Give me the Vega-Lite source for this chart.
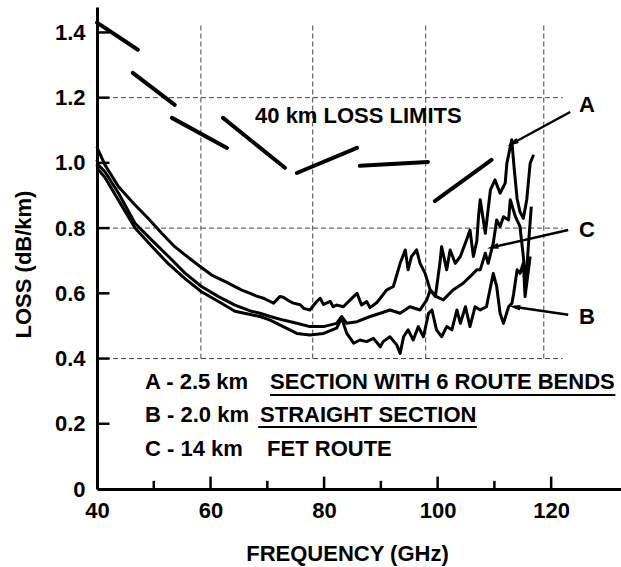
{
  "$schema": "https://vega.github.io/schema/vega-lite/v6.json",
  "width": 524,
  "height": 482,
  "autosize": {"type": "none"},
  "padding": {"left": 97, "top": 7, "right": 0, "bottom": 78},
  "background": "white",
  "config": {
    "view": {"stroke": null},
    "font": "Liberation Sans",
    "text": {"font": "Liberation Sans", "fontWeight": "bold", "fontSize": 22, "color": "black"}
  },
  "datasets": {
    "gridV": [
      {"x": 58.3, "y": 0.4, "y2": 1.43},
      {"x": 78.0, "y": 0.4, "y2": 1.43},
      {"x": 97.9, "y": 0.4, "y2": 1.43},
      {"x": 118.7, "y": 0.4, "y2": 1.43}
    ],
    "gridH": [
      {"x": 40, "x2": 122, "y": 0.4},
      {"x": 40, "x2": 122, "y": 0.8},
      {"x": 40, "x2": 122, "y": 1.2}
    ],
    "limits": [
      {"seg": 1, "x": 40.0, "y": 1.43}, {"seg": 1, "x": 47.2, "y": 1.347},
      {"seg": 2, "x": 46.3, "y": 1.276}, {"seg": 2, "x": 53.7, "y": 1.178},
      {"seg": 3, "x": 53.2, "y": 1.138}, {"seg": 3, "x": 62.9, "y": 1.046},
      {"seg": 4, "x": 62.2, "y": 1.138}, {"seg": 4, "x": 73.1, "y": 0.985},
      {"seg": 5, "x": 75.2, "y": 0.969}, {"seg": 5, "x": 85.8, "y": 1.046},
      {"seg": 6, "x": 86.3, "y": 0.991}, {"seg": 6, "x": 98.3, "y": 1.003},
      {"seg": 7, "x": 99.5, "y": 0.883}, {"seg": 7, "x": 109.5, "y": 1.009}
    ],
    "curves": [
      {"curve": "A", "x": 40.0, "y": 1.05}, {"curve": "A", "x": 40.2, "y": 1.04}, {"curve": "A", "x": 41.4, "y": 0.994},
      {"curve": "A", "x": 43.8, "y": 0.927}, {"curve": "A", "x": 46.7, "y": 0.871}, {"curve": "A", "x": 49.0, "y": 0.83},
      {"curve": "A", "x": 51.4, "y": 0.784}, {"curve": "A", "x": 53.7, "y": 0.743}, {"curve": "A", "x": 55.5, "y": 0.718},
      {"curve": "A", "x": 57.8, "y": 0.687}, {"curve": "A", "x": 60.2, "y": 0.656}, {"curve": "A", "x": 62.6, "y": 0.636},
      {"curve": "A", "x": 65.5, "y": 0.61}, {"curve": "A", "x": 67.0, "y": 0.6}, {"curve": "A", "x": 68.0, "y": 0.592},
      {"curve": "A", "x": 69.3, "y": 0.585}, {"curve": "A", "x": 70.5, "y": 0.575}, {"curve": "A", "x": 71.1, "y": 0.57},
      {"curve": "A", "x": 72.2, "y": 0.59}, {"curve": "A", "x": 72.8, "y": 0.588}, {"curve": "A", "x": 74.0, "y": 0.575},
      {"curve": "A", "x": 74.6, "y": 0.57}, {"curve": "A", "x": 75.8, "y": 0.565}, {"curve": "A", "x": 76.4, "y": 0.554},
      {"curve": "A", "x": 77.5, "y": 0.549}, {"curve": "A", "x": 78.7, "y": 0.575}, {"curve": "A", "x": 79.3, "y": 0.585},
      {"curve": "A", "x": 79.9, "y": 0.566}, {"curve": "A", "x": 81.1, "y": 0.575}, {"curve": "A", "x": 81.6, "y": 0.559},
      {"curve": "A", "x": 82.2, "y": 0.564}, {"curve": "A", "x": 83.4, "y": 0.559}, {"curve": "A", "x": 84.6, "y": 0.58},
      {"curve": "A", "x": 85.8, "y": 0.6}, {"curve": "A", "x": 86.6, "y": 0.564}, {"curve": "A", "x": 87.5, "y": 0.575},
      {"curve": "A", "x": 88.1, "y": 0.556}, {"curve": "A", "x": 89.3, "y": 0.572}, {"curve": "A", "x": 89.9, "y": 0.585},
      {"curve": "A", "x": 91.0, "y": 0.61}, {"curve": "A", "x": 92.2, "y": 0.621}, {"curve": "A", "x": 93.4, "y": 0.692},
      {"curve": "A", "x": 94.3, "y": 0.733}, {"curve": "A", "x": 94.8, "y": 0.672}, {"curve": "A", "x": 95.4, "y": 0.713},
      {"curve": "A", "x": 96.3, "y": 0.733}, {"curve": "A", "x": 96.9, "y": 0.692}, {"curve": "A", "x": 97.8, "y": 0.661},
      {"curve": "A", "x": 98.7, "y": 0.61}, {"curve": "A", "x": 99.6, "y": 0.59}, {"curve": "A", "x": 100.4, "y": 0.692},
      {"curve": "A", "x": 100.7, "y": 0.743}, {"curve": "A", "x": 101.6, "y": 0.672}, {"curve": "A", "x": 102.2, "y": 0.733},
      {"curve": "A", "x": 103.1, "y": 0.692}, {"curve": "A", "x": 104.0, "y": 0.713}, {"curve": "A", "x": 105.1, "y": 0.764},
      {"curve": "A", "x": 105.7, "y": 0.794}, {"curve": "A", "x": 106.3, "y": 0.713}, {"curve": "A", "x": 106.9, "y": 0.76},
      {"curve": "A", "x": 107.2, "y": 0.835}, {"curve": "A", "x": 107.5, "y": 0.887}, {"curve": "A", "x": 108.4, "y": 0.784},
      {"curve": "A", "x": 109.3, "y": 0.917}, {"curve": "A", "x": 110.1, "y": 0.948}, {"curve": "A", "x": 111.0, "y": 0.907},
      {"curve": "A", "x": 111.9, "y": 0.938}, {"curve": "A", "x": 112.2, "y": 0.999}, {"curve": "A", "x": 113.05, "y": 1.071},
      {"curve": "A", "x": 113.5, "y": 0.98}, {"curve": "A", "x": 114.0, "y": 0.89}, {"curve": "A", "x": 114.5, "y": 0.85},
      {"curve": "A", "x": 115.1, "y": 0.83}, {"curve": "A", "x": 115.7, "y": 0.887}, {"curve": "A", "x": 116.3, "y": 0.999},
      {"curve": "A", "x": 116.9, "y": 1.025},

      {"curve": "C", "x": 40.0, "y": 1.01}, {"curve": "C", "x": 40.2, "y": 0.994}, {"curve": "C", "x": 41.4, "y": 0.973},
      {"curve": "C", "x": 43.8, "y": 0.907}, {"curve": "C", "x": 46.7, "y": 0.815}, {"curve": "C", "x": 49.6, "y": 0.764},
      {"curve": "C", "x": 52.6, "y": 0.713}, {"curve": "C", "x": 55.5, "y": 0.662}, {"curve": "C", "x": 58.4, "y": 0.621},
      {"curve": "C", "x": 61.4, "y": 0.59}, {"curve": "C", "x": 64.3, "y": 0.564}, {"curve": "C", "x": 67.0, "y": 0.546},
      {"curve": "C", "x": 68.7, "y": 0.539}, {"curve": "C", "x": 70.5, "y": 0.529}, {"curve": "C", "x": 72.8, "y": 0.518},
      {"curve": "C", "x": 75.2, "y": 0.508}, {"curve": "C", "x": 77.5, "y": 0.498}, {"curve": "C", "x": 79.9, "y": 0.498},
      {"curve": "C", "x": 82.2, "y": 0.508}, {"curve": "C", "x": 83.1, "y": 0.529}, {"curve": "C", "x": 84.0, "y": 0.508},
      {"curve": "C", "x": 85.8, "y": 0.513}, {"curve": "C", "x": 88.1, "y": 0.529}, {"curve": "C", "x": 89.9, "y": 0.539},
      {"curve": "C", "x": 91.6, "y": 0.549}, {"curve": "C", "x": 93.4, "y": 0.539}, {"curve": "C", "x": 95.1, "y": 0.559},
      {"curve": "C", "x": 96.9, "y": 0.549}, {"curve": "C", "x": 98.1, "y": 0.58}, {"curve": "C", "x": 98.7, "y": 0.61},
      {"curve": "C", "x": 99.8, "y": 0.59}, {"curve": "C", "x": 101.0, "y": 0.58}, {"curve": "C", "x": 102.7, "y": 0.61},
      {"curve": "C", "x": 104.5, "y": 0.631}, {"curve": "C", "x": 105.7, "y": 0.651}, {"curve": "C", "x": 106.9, "y": 0.672},
      {"curve": "C", "x": 107.5, "y": 0.672}, {"curve": "C", "x": 108.4, "y": 0.723}, {"curve": "C", "x": 108.9, "y": 0.692},
      {"curve": "C", "x": 109.8, "y": 0.754}, {"curve": "C", "x": 110.4, "y": 0.825}, {"curve": "C", "x": 111.0, "y": 0.805},
      {"curve": "C", "x": 111.6, "y": 0.835}, {"curve": "C", "x": 112.5, "y": 0.825}, {"curve": "C", "x": 112.8, "y": 0.887},
      {"curve": "C", "x": 113.7, "y": 0.835}, {"curve": "C", "x": 114.5, "y": 0.805}, {"curve": "C", "x": 115.1, "y": 0.713},
      {"curve": "C", "x": 115.5, "y": 0.62}, {"curve": "C", "x": 116.0, "y": 0.75}, {"curve": "C", "x": 116.5, "y": 0.866},

      {"curve": "B", "x": 40.0, "y": 0.995}, {"curve": "B", "x": 40.2, "y": 0.98}, {"curve": "B", "x": 41.4, "y": 0.955},
      {"curve": "B", "x": 43.8, "y": 0.885}, {"curve": "B", "x": 46.7, "y": 0.8}, {"curve": "B", "x": 49.6, "y": 0.745},
      {"curve": "B", "x": 52.6, "y": 0.69}, {"curve": "B", "x": 55.5, "y": 0.645}, {"curve": "B", "x": 58.4, "y": 0.605},
      {"curve": "B", "x": 61.4, "y": 0.575}, {"curve": "B", "x": 64.3, "y": 0.545}, {"curve": "B", "x": 67.0, "y": 0.535},
      {"curve": "B", "x": 68.7, "y": 0.529}, {"curve": "B", "x": 70.5, "y": 0.518}, {"curve": "B", "x": 72.8, "y": 0.498},
      {"curve": "B", "x": 75.2, "y": 0.477}, {"curve": "B", "x": 77.5, "y": 0.472}, {"curve": "B", "x": 79.9, "y": 0.477},
      {"curve": "B", "x": 82.2, "y": 0.493}, {"curve": "B", "x": 83.1, "y": 0.524}, {"curve": "B", "x": 84.0, "y": 0.477},
      {"curve": "B", "x": 85.2, "y": 0.447}, {"curve": "B", "x": 86.3, "y": 0.457}, {"curve": "B", "x": 87.5, "y": 0.452},
      {"curve": "B", "x": 88.7, "y": 0.462}, {"curve": "B", "x": 89.9, "y": 0.436}, {"curve": "B", "x": 90.4, "y": 0.452},
      {"curve": "B", "x": 91.6, "y": 0.467}, {"curve": "B", "x": 92.8, "y": 0.442}, {"curve": "B", "x": 93.4, "y": 0.416},
      {"curve": "B", "x": 94.0, "y": 0.467}, {"curve": "B", "x": 94.8, "y": 0.488}, {"curve": "B", "x": 95.7, "y": 0.457},
      {"curve": "B", "x": 96.6, "y": 0.498}, {"curve": "B", "x": 97.5, "y": 0.467}, {"curve": "B", "x": 98.4, "y": 0.539},
      {"curve": "B", "x": 99.0, "y": 0.549}, {"curve": "B", "x": 99.8, "y": 0.488}, {"curve": "B", "x": 100.7, "y": 0.467},
      {"curve": "B", "x": 101.6, "y": 0.498}, {"curve": "B", "x": 102.5, "y": 0.488}, {"curve": "B", "x": 103.4, "y": 0.549},
      {"curve": "B", "x": 104.0, "y": 0.508}, {"curve": "B", "x": 104.9, "y": 0.559}, {"curve": "B", "x": 105.7, "y": 0.498},
      {"curve": "B", "x": 106.6, "y": 0.559}, {"curve": "B", "x": 107.5, "y": 0.549}, {"curve": "B", "x": 108.6, "y": 0.559},
      {"curve": "B", "x": 109.8, "y": 0.661}, {"curve": "B", "x": 110.4, "y": 0.621}, {"curve": "B", "x": 111.0, "y": 0.539},
      {"curve": "B", "x": 111.6, "y": 0.508}, {"curve": "B", "x": 112.5, "y": 0.559}, {"curve": "B", "x": 113.1, "y": 0.57},
      {"curve": "B", "x": 113.4, "y": 0.6}, {"curve": "B", "x": 114.0, "y": 0.672}, {"curve": "B", "x": 114.5, "y": 0.661},
      {"curve": "B", "x": 115.1, "y": 0.692}, {"curve": "B", "x": 115.4, "y": 0.59}, {"curve": "B", "x": 116.0, "y": 0.672},
      {"curve": "B", "x": 116.3, "y": 0.713}
    ],
    "xTicks": [
      {"x": 50, "y": 0, "y2": 0.025},
      {"x": 60, "y": 0, "y2": 0.038},
      {"x": 70, "y": 0, "y2": 0.025},
      {"x": 80, "y": 0, "y2": 0.038},
      {"x": 90, "y": 0, "y2": 0.025},
      {"x": 100, "y": 0, "y2": 0.038},
      {"x": 110, "y": 0, "y2": 0.025},
      {"x": 120, "y": 0, "y2": 0.038}
    ],
    "yTicks": [
      {"x": 40, "x2": 42.2, "y": 0.2},
      {"x": 40, "x2": 42.2, "y": 0.4},
      {"x": 40, "x2": 42.2, "y": 0.6},
      {"x": 40, "x2": 42.2, "y": 0.8},
      {"x": 40, "x2": 42.2, "y": 1.0},
      {"x": 40, "x2": 42.2, "y": 1.2},
      {"x": 40, "x2": 42.2, "y": 1.4}
    ],
    "texts": [
      {"x": 67.84, "y": 1.144, "label": "40 km LOSS LIMITS"},
      {"x": 48.46, "y": 0.328, "label": "A - 2.5 km"},
      {"x": 70.48, "y": 0.328, "label": "SECTION WITH 6 ROUTE BENDS"},
      {"x": 48.46, "y": 0.227, "label": "B - 2.0 km"},
      {"x": 68.72, "y": 0.227, "label": "STRAIGHT SECTION"},
      {"x": 48.46, "y": 0.123, "label": "C - 14 km"},
      {"x": 69.96, "y": 0.123, "label": "FET ROUTE"},
      {"x": 124.9, "y": 1.178, "label": "A"},
      {"x": 124.9, "y": 0.794, "label": "C"},
      {"x": 124.9, "y": 0.528, "label": "B"}
    ],
    "underlines": [
      {"x": 70.48, "x2": 131.3, "y": 0.288},
      {"x": 68.4, "x2": 106.9, "y": 0.19}
    ],
    "arrows": [
      {"x": 123.35, "y": 1.156, "x2": 113.3, "y2": 1.061},
      {"x": 123.0, "y": 0.794, "x2": 109.8, "y2": 0.742},
      {"x": 123.0, "y": 0.534, "x2": 113.66, "y2": 0.558}
    ],
    "heads": [
      {"x": 113.3, "y": 1.061, "angle": 241.5},
      {"x": 109.8, "y": 0.742, "angle": 257},
      {"x": 113.66, "y": 0.558, "angle": 278.6}
    ]
  },
  "encoding": {
    "x": {
      "field": "x", "type": "quantitative",
      "scale": {"domain": [40, 132.3], "nice": false, "zero": false},
      "axis": {
        "values": [40, 60, 80, 100, 120],
        "title": "FREQUENCY (GHz)",
        "grid": false,
        "domainWidth": 3, "domainColor": "black",
        "ticks": false, "tickSize": 0,
        "labelFont": "Liberation Sans", "labelFontWeight": "bold", "labelFontSize": 22, "labelColor": "black",
        "labelPadding": 11, "labelFlush": false, "labelOverlap": false,
        "titleFont": "Liberation Sans", "titleFontWeight": "bold", "titleFontSize": 22, "titleColor": "black",
        "titleX": 250, "titleY": 64, "titleBaseline": "middle", "titleAlign": "center"
      }
    },
    "y": {
      "field": "y", "type": "quantitative",
      "scale": {"domain": [0, 1.478], "nice": false, "zero": false},
      "axis": {
        "values": [0, 0.2, 0.4, 0.6, 0.8, 1.0, 1.2, 1.4],
        "labelExpr": "datum.value == 0 ? '0' : format(datum.value, '.1f')",
        "title": "LOSS (dB/km)",
        "grid": false,
        "domainWidth": 3, "domainColor": "black",
        "ticks": false, "tickSize": 0,
        "labelFont": "Liberation Sans", "labelFontWeight": "bold", "labelFontSize": 22, "labelColor": "black",
        "labelPadding": 12, "labelOverlap": false, "labelFlush": false,
        "titleFont": "Liberation Sans", "titleFontWeight": "bold", "titleFontSize": 22, "titleColor": "black",
        "titleX": -74, "titleY": 257, "titleBaseline": "middle", "titleAlign": "center", "titleAngle": -90
      }
    }
  },
  "layer": [
    {
      "data": {"name": "gridV"},
      "mark": {"type": "rule", "color": "#444", "strokeWidth": 1, "strokeDash": [5, 3]},
      "encoding": {"y2": {"field": "y2"}}
    },
    {
      "data": {"name": "gridH"},
      "mark": {"type": "rule", "color": "#444", "strokeWidth": 1, "strokeDash": [5, 3]},
      "encoding": {"x2": {"field": "x2"}}
    },
    {
      "data": {"name": "limits"},
      "mark": {"type": "line", "color": "black", "strokeWidth": 4, "strokeCap": "round"},
      "encoding": {"detail": {"field": "seg", "type": "nominal"}}
    },
    {
      "data": {"name": "curves"},
      "mark": {"type": "line", "color": "black", "strokeWidth": 3, "strokeJoin": "round"},
      "encoding": {"detail": {"field": "curve", "type": "nominal"}}
    },
    {
      "data": {"name": "xTicks"},
      "mark": {"type": "rule", "color": "black", "strokeWidth": 2.5},
      "encoding": {"y2": {"field": "y2"}}
    },
    {
      "data": {"name": "yTicks"},
      "mark": {"type": "rule", "color": "black", "strokeWidth": 2.5},
      "encoding": {"x2": {"field": "x2"}}
    },
    {
      "data": {"name": "texts"},
      "mark": {"type": "text", "align": "left", "baseline": "middle", "font": "Liberation Sans", "fontWeight": "bold", "fontSize": 22},
      "encoding": {"text": {"field": "label"}}
    },
    {
      "data": {"name": "underlines"},
      "mark": {"type": "rule", "color": "black", "strokeWidth": 2},
      "encoding": {"x2": {"field": "x2"}}
    },
    {
      "data": {"name": "arrows"},
      "mark": {"type": "rule", "color": "black", "strokeWidth": 2.5},
      "encoding": {"x2": {"field": "x2"}, "y2": {"field": "y2"}}
    },
    {
      "data": {"name": "heads"},
      "mark": {"type": "point", "shape": "M0,-1L0.45,0.8L-0.45,0.8Z", "filled": true, "color": "black", "size": 160, "opacity": 1},
      "encoding": {
        "angle": {"field": "angle", "type": "quantitative", "scale": null}
      }
    }
  ]
}
